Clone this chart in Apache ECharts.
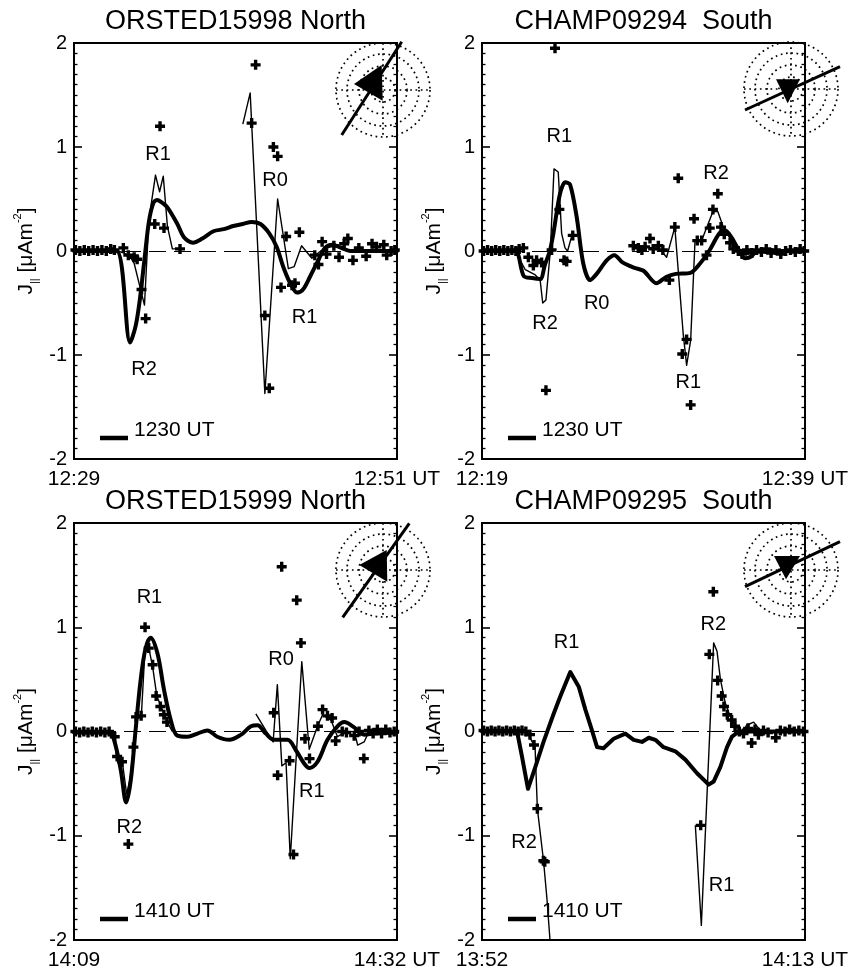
<!DOCTYPE html>
<html>
<head>
<meta charset="utf-8">
<script src="https://cdn.jsdelivr.net/npm/echarts/dist/echarts.min.js"></script>
<style>
html, body { margin: 0; padding: 0; background: #fff; }
#chart { width: 852px; height: 974px; }
</style>
</head>
<body>
<div id="chart"></div>
<script>
// Field-aligned current density J|| along four satellite passes,
// measured (crosses), along-track estimate (thin line) and model (thick line).

const panelTitles = ['ORSTED15998 North', 'CHAMP09294  South', 'ORSTED15999 North', 'CHAMP09295  South'];
const startTimes = ['12:29', '12:19', '14:09', '13:52'];
const endTimes = ['12:51 UT', '12:39 UT', '14:32 UT', '14:13 UT'];
const spanMinutes = [22, 20, 23, 21];          // minutes after the start time
const modelEpochs = ['1230 UT', '1230 UT', '1410 UT', '1410 UT'];
const yTickValues = [-2, -1, 0, 1, 2];

// ---- ORSTED 15998, North ([minutes, uA/m^2]) ----
const orsted15998Obs = [[0.1,0.01],[0.4,0.0],[0.7,0.01],[1.0,0.0],[1.3,0.01],[1.6,0.0],[1.9,0.01],[2.2,0.0],[2.5,0.02],[2.75,0.01],
  [3.36,0.03],[3.7,-0.04],[4.1,-0.06],[4.3,-0.08],[4.6,-0.37],[4.88,-0.65],[5.5,0.26],[5.86,1.2],[6.13,0.22],[7.22,0.02],
  [12.1,1.23],[12.37,1.79],[13.0,-0.62],[13.3,-1.32],[13.58,1.0],[13.87,0.91],[14.1,-0.35],[14.45,0.14],[14.85,-0.33],[15.05,-0.31],
  [15.35,0.18],[16.4,-0.04],[16.65,-0.13],[16.9,0.09],[17.2,-0.03],[17.7,0.05],[18.05,-0.06],[18.4,0.07],[18.65,0.12],[19.0,-0.09],
  [19.4,0.03],[19.9,-0.05],[20.3,0.07],[20.6,0.04],[21.1,0.06],[21.3,-0.04],[21.6,0.0],[21.85,0.01]];
const orsted15998Thin = [[0,0],[1.5,0],[3.0,0.0],[3.4,-0.02],[3.8,-0.05],[4.1,-0.12],[4.5,-0.35],[4.8,-0.52],[5.1,0.3],[5.55,0.73],
  [5.83,0.57],[6.08,0.72],[6.36,0.24],[6.7,0.02],[7.22,0.02],[9.5,'-'],[11.5,1.22],[12.0,1.52],[13.0,-1.37],[13.87,0.5],
  [14.6,-0.17],[15.0,-0.15],[15.5,0.05],[16.2,-0.07],[16.8,0.0],[17.3,0.03],[17.7,0.06],[18.3,0.04],[19.0,-0.01],[20,0],[22,0]];
const orsted15998Model = [[0,0],[1.5,0],[2.9,0],[3.82,-0.88],[4.2,-0.72],[4.5,-0.45],[4.8,-0.08],[5.1,0.28],[5.4,0.46],[5.65,0.49],
  [5.95,0.47],[6.36,0.42],[7.04,0.26],[7.5,0.13],[8.1,0.08],[8.74,0.12],[9.5,0.19],[10.2,0.21],[10.85,0.24],[11.5,0.26],
  [12.1,0.28],[12.7,0.26],[13.3,0.17],[13.8,0.04],[14.3,-0.17],[14.8,-0.33],[15.2,-0.4],[15.6,-0.37],[16.1,-0.24],[16.6,-0.1],
  [17.1,0.03],[17.6,0.06],[18.2,0.03],[18.8,0.0],[20,0],[22,0]];
const orsted15998Regions = [[5.72,0.93,'R1'],[13.7,0.68,'R0'],[15.7,-0.64,'R1'],[4.77,-1.14,'R2']];

// ---- CHAMP 09294, South ----
const champ09294Obs = [[0.1,0.0],[0.35,0.01],[0.6,0.0],[0.85,0.01],[1.1,0.0],[1.35,0.01],[1.6,0.0],[1.85,0.01],[2.1,0.0],[2.3,0.02],
  [2.56,0.03],[2.87,-0.06],[3.18,-0.14],[3.38,-0.09],[3.69,-0.11],[3.96,-1.34],[4.31,0.01],[4.52,1.95],[4.79,0.4],[5.08,-0.09],
  [5.24,-0.1],[5.62,0.15],[9.37,0.05],[9.68,0.03],[9.9,0.01],[10.1,0.04],[10.4,0.12],[10.6,0.02],[10.92,0.05],[11.2,0.01],
  [11.6,-0.28],[11.94,0.23],[12.15,0.7],[12.4,-0.99],[12.67,-0.85],[12.92,-1.48],[13.13,0.31],[13.33,0.1],[13.6,0.1],[13.9,-0.04],
  [14.1,0.22],[14.3,0.4],[14.6,0.55],[14.8,0.23],[15.0,0.16],[15.36,0.08],[15.56,0.02],[15.87,0.0],[16.1,-0.03],[16.4,0.01],
  [16.7,-0.02],[17.0,0.01],[17.3,-0.01],[17.6,0.02],[17.9,-0.02],[18.2,0.01],[18.5,-0.03],[18.8,0.0],[19.1,0.01],[19.4,-0.01],
  [19.7,0.02],[19.95,0.0]];
const champ09294Thin = [[0,0],[1.0,0],[2.06,0],[2.68,-0.18],[3.3,-0.23],[3.6,-0.28],[3.76,-0.5],[3.96,-0.47],[4.23,0.0],[4.46,0.79],
  [4.72,0.76],[4.93,0.17],[5.14,0.03],[5.3,0.0],[5.6,0.17],[7.5,'-'],[9.16,0.06],[10.0,0.04],[10.6,0.03],[11.0,0.02],
  [11.43,-0.06],[11.94,0.23],[12.46,-0.8],[12.67,-1.1],[12.92,-0.86],[13.19,0.1],[13.6,0.1],[14.3,0.38],[14.6,0.38],[14.94,0.23],
  [15.56,0.07],[15.97,-0.03],[16.5,0.0],[17,0],[20,0]];
const champ09294Model = [[0,0],[1.0,0],[2.06,0],[2.58,-0.24],[3.1,-0.26],[3.6,-0.27],[3.9,-0.13],[4.2,0.0],[4.42,0.17],[4.83,0.55],
  [5.15,0.66],[5.45,0.64],[5.86,0.33],[6.27,-0.12],[6.69,-0.28],[7.1,-0.22],[7.72,-0.09],[8.2,-0.04],[8.7,-0.11],[9.4,-0.16],
  [10.0,-0.19],[10.8,-0.31],[11.4,-0.25],[12.0,-0.22],[12.9,-0.21],[13.5,-0.12],[14.1,0.01],[14.7,0.17],[15.05,0.2],[15.45,0.13],
  [15.9,0.01],[16.3,-0.07],[16.7,-0.05],[17.0,0.0],[18,0],[20,0]];
const champ09294Regions = [[4.79,1.10,'R1'],[14.49,0.75,'R2'],[7.1,-0.50,'R0'],[3.9,-0.70,'R2'],[12.78,-1.26,'R1']];

// ---- ORSTED 15999, North ----
const orsted15999Obs = [[0.1,0.0],[0.4,-0.01],[0.7,0.0],[1.0,-0.01],[1.3,0.0],[1.6,-0.01],[1.9,0.0],[2.2,-0.01],[2.5,0.0],[2.9,-0.05],
  [3.07,-0.24],[3.42,-0.29],[3.87,-1.08],[4.23,-0.15],[4.42,0.14],[4.78,0.15],[5.06,1.0],[5.32,0.8],[5.6,0.64],[5.85,0.34],
  [6.15,0.24],[6.4,0.16],[6.62,0.09],[14.22,0.18],[14.5,-0.42],[14.79,1.58],[15.35,-0.28],[15.63,-1.18],[15.86,1.26],[16.16,0.85],
  [16.45,-0.07],[16.77,-0.26],[17.37,0.05],[17.7,0.21],[18.05,0.15],[18.38,0.13],[18.63,-0.09],[19.1,0.0],[19.4,-0.01],[19.95,-0.04],
  [20.3,0.0],[20.64,-0.26],[21.0,0.01],[21.3,-0.02],[21.6,0.02],[21.9,-0.02],[22.2,0.02],[22.5,-0.01],[22.8,0.0]];
const orsted15999Thin = [[0,0],[2.5,0],[2.88,-0.05],[3.1,-0.24],[3.44,-0.29],[3.75,-0.6],[4.0,-0.45],[4.23,-0.15],[4.5,0.12],[4.8,0.16],
  [5.06,0.8],[5.3,0.82],[5.6,0.62],[5.9,0.34],[6.2,0.24],[6.45,0.16],[6.65,0.09],[7.0,0.0],[9.0,'-'],[12.95,0.17],
  [13.66,0.01],[14.18,-0.1],[14.48,0.45],[14.8,-0.33],[15.1,-0.3],[15.4,-1.22],[16.22,0.67],[16.75,-0.17],[17.34,0.05],[17.7,0.16],
  [18.3,0.11],[18.76,-0.05],[19.4,0.0],[20.07,-0.06],[20.2,-0.13],[20.66,-0.1],[21.0,0.0],[23,0]];
const orsted15999Model = [[0,-0.01],[1.0,-0.01],[2.5,-0.01],[2.85,-0.08],[3.33,-0.37],[3.72,-0.68],[4.04,-0.47],[4.39,0.02],[4.75,0.5],[5.1,0.8],
  [5.46,0.9],[5.94,0.75],[6.41,0.4],[6.89,0.11],[7.36,-0.04],[8.08,-0.05],[8.79,-0.02],[9.5,0.01],[10.2,-0.05],[11.05,-0.08],
  [11.9,-0.03],[12.6,0.05],[13.06,0.06],[13.66,-0.02],[14.25,-0.08],[15.2,-0.08],[15.8,-0.18],[16.4,-0.31],[16.75,-0.35],[17.34,-0.29],
  [18.05,-0.08],[18.76,0.05],[19.24,0.09],[19.95,0.04],[20.66,-0.03],[21.4,-0.02],[23,-0.01]];
const orsted15999Regions = [[5.37,1.29,'R1'],[14.74,0.69,'R0'],[16.93,-0.58,'R1'],[3.94,-0.92,'R2']];

// ---- CHAMP 09295, South ----
const champ09295Obs = [[0.1,0.01],[0.35,0.0],[0.6,0.01],[0.85,0.0],[1.1,0.01],[1.35,0.0],[1.6,0.01],[1.85,0.0],[2.1,0.01],[2.35,0.0],
  [2.6,0.01],[2.85,0.0],[3.12,-0.03],[3.38,-0.13],[3.6,-0.74],[3.99,-1.24],[4.08,-1.25],[14.22,-0.9],[14.78,0.74],[15.04,1.34],
  [15.32,0.49],[15.58,0.34],[15.73,0.24],[15.95,0.16],[16.23,0.11],[16.45,0.05],[16.73,0.0],[17.0,-0.02],[17.3,0.03],[17.53,-0.11],
  [17.75,0.02],[17.97,-0.03],[18.3,0.01],[18.6,-0.01],[19.1,-0.06],[19.4,0.01],[19.7,0.0],[20.0,0.02],[20.3,0.0],[20.6,0.01],[20.9,0.0]];
const champ09295Thin = [[0,0],[1.0,0],[2.28,0],[2.9,0.0],[3.45,-0.15],[3.6,-0.74],[4.0,-1.24],[4.22,-1.6],[4.42,-2.0],[4.55,-2.4],
  [9.0,'-'],[13.87,-0.9],[14.26,-1.86],[15.06,0.85],[15.28,0.77],[15.5,0.5],[15.82,0.27],[16.15,0.14],[16.58,0.03],[16.9,-0.02],
  [17.2,0.06],[17.66,0.09],[18.1,0.01],[19,0],[21,0]];
const champ09295Model = [[0,0],[1.0,0],[2.28,0],[2.6,-0.24],[2.99,-0.55],[3.47,-0.34],[4.0,-0.1],[4.66,0.17],[5.1,0.34],[5.74,0.57],
  [6.29,0.43],[6.72,0.21],[7.15,0.01],[7.48,-0.15],[7.9,-0.16],[8.56,-0.07],[9.32,-0.02],[9.86,-0.08],[10.4,-0.1],[10.84,-0.06],
  [11.27,-0.08],[11.8,-0.15],[12.57,-0.19],[13.22,-0.27],[13.98,-0.4],[14.74,-0.51],[15.06,-0.48],[15.5,-0.34],[15.93,-0.15],[16.25,-0.05],
  [16.7,0.0],[18,0],[21,0]];
const champ09295Regions = [[5.5,0.85,'R1'],[15.04,1.03,'R2'],[2.73,-1.06,'R2'],[15.58,-1.48,'R1']];

// ---------------------------------------------------------------------------
const FONT = '"Liberation Sans", Arial, Helvetica, sans-serif';
const BLACK = '#000';
const CROSS = 'path://M3.3,0H6.7V3.3H10V6.7H6.7V10H3.3V6.7H0V3.3H3.3Z';

const panels = [
  { obs: orsted15998Obs, thin: orsted15998Thin, model: orsted15998Model, regions: orsted15998Regions, smooth: 0.3 },
  { obs: champ09294Obs,  thin: champ09294Thin,  model: champ09294Model,  regions: champ09294Regions,  smooth: 0.3 },
  { obs: orsted15999Obs, thin: orsted15999Thin, model: orsted15999Model, regions: orsted15999Regions, smooth: 0.35 },
  { obs: champ09295Obs,  thin: champ09295Thin,  model: champ09295Model,  regions: champ09295Regions,  smooth: 0 }
];

// plot rectangles (px)
const layout = [
  { left: 74,  top: 43,  width: 323, height: 416 },
  { left: 482, top: 43,  width: 323, height: 416 },
  { left: 74,  top: 523, width: 323, height: 417 },
  { left: 482, top: 523, width: 323, height: 417 }
];

// orbit dial in the upper right corner of each panel
const dials = [
  { cx: 383, cy: 90,  arrow: [341.7, 135, 401.7, 41.7],  head: [[354, 84], [381.7, 65], [382.7, 100.7]] },
  { cx: 791, cy: 89,  arrow: [745, 110, 840, 66.7],      head: [[776, 79.3], [800, 79.3], [787.7, 103.3]] },
  { cx: 383, cy: 570, arrow: [342.7, 617.3, 409.3, 523.3], head: [[359.3, 565], [386.7, 550], [387.3, 581.7]] },
  { cx: 791, cy: 570, arrow: [745, 586.7, 840, 541.7],   head: [[774, 556], [800, 556], [786, 579.3]] }
];
const dialRadii = [12, 24, 36, 47];

const chart = echarts.init(document.getElementById('chart'), null, { renderer: 'canvas' });

const grids = layout.map(g => ({
  left: g.left, top: g.top, width: g.width, height: g.height,
  show: true, borderColor: BLACK, borderWidth: 2, backgroundColor: 'transparent',
  containLabel: false, outerBoundsMode: 'none'
}));

const xAxes = layout.map((g, i) => ({
  gridIndex: i, type: 'value', min: 0, max: spanMinutes[i], interval: spanMinutes[i],
  axisLine: { show: false }, axisTick: { show: false }, splitLine: { show: false },
  axisLabel: {
    show: true, showMinLabel: true, showMaxLabel: true, hideOverlap: false,
    margin: 10, fontSize: 21, color: BLACK, fontFamily: FONT,
    formatter: v => (v === 0 ? startTimes[i] : endTimes[i])
  }
}));

const tickCommon = {
  axisLine: { show: false },
  axisTick: { show: true, inside: true, length: 8, lineStyle: { color: BLACK, width: 1.6 } },
  minorTick: { show: true, splitNumber: 10, length: 3.5, lineStyle: { color: BLACK, width: 1.3 } },
  splitLine: { show: false }, minorSplitLine: { show: false }
};

const leftAxes = layout.map((g, i) => Object.assign({
  gridIndex: i, type: 'value', position: 'left',
  min: yTickValues[0], max: yTickValues[yTickValues.length - 1], interval: 1,
  axisLabel: { show: true, margin: 7, fontSize: 20, color: BLACK, fontFamily: FONT,
    formatter: v => String(v) },
  name: '{n|J}{sub|||}{n| [\u03bcAm}{sup|-2}{n|]}',
  nameLocation: 'middle', nameRotate: 90, nameGap: 34,
  nameTextStyle: {
    color: BLACK, fontFamily: FONT, fontSize: 21,
    rich: {
      n: { fontSize: 21, lineHeight: 28, color: BLACK, fontFamily: FONT },
      sub: { fontSize: 11, lineHeight: 11, verticalAlign: 'bottom', color: BLACK, fontFamily: FONT },
      sup: { fontSize: 11, lineHeight: 11, verticalAlign: 'top', color: BLACK, fontFamily: FONT }
    }
  }
}, tickCommon));

const rightAxes = layout.map((g, i) => Object.assign({
  gridIndex: i, type: 'value', position: 'right',
  min: yTickValues[0], max: yTickValues[yTickValues.length - 1], interval: 1,
  axisLabel: { show: false }
}, tickCommon));

const series = [];
panels.forEach((p, i) => {
  series.push({
    type: 'line', xAxisIndex: i, yAxisIndex: i, data: p.model,
    showSymbol: false, symbol: 'none', smooth: p.smooth, clip: true, z: 4,
    lineStyle: { color: BLACK, width: 4, join: 'round', cap: 'round', opacity: 1 },
    itemStyle: { color: BLACK },
    markLine: {
      silent: true, symbol: ['none', 'none'], label: { show: false },
      lineStyle: { color: BLACK, width: 1, type: [17, 8], opacity: 1 },
      data: [{ yAxis: 0 }], z: 1, animation: false
    }
  });
  series.push({
    type: 'line', xAxisIndex: i, yAxisIndex: i, data: p.thin,
    showSymbol: false, symbol: 'none', connectNulls: false, clip: true, z: 3,
    lineStyle: { color: BLACK, width: 1.4, join: 'round', opacity: 1 },
    itemStyle: { color: BLACK }
  });
  series.push({
    type: 'scatter', xAxisIndex: i, yAxisIndex: i, data: p.obs,
    symbol: CROSS, symbolSize: 10, clip: true, z: 5,
    itemStyle: { color: BLACK, opacity: 1 }
  });
  series.push({
    type: 'scatter', xAxisIndex: i, yAxisIndex: i, data: p.regions,
    symbolSize: 1, silent: true, z: 6,
    itemStyle: { color: 'rgba(0,0,0,0)', opacity: 1 },
    label: {
      show: true, position: 'inside', formatter: q => q.data[2],
      fontSize: 20, color: BLACK, opacity: 1, fontFamily: FONT
    }
  });
});

const graphic = [];
layout.forEach((g, i) => {
  // panel title
  graphic.push({
    type: 'text', z: 50,
    style: { text: panelTitles[i], x: g.left + g.width / 2, y: g.top - 21,
      align: 'center', verticalAlign: 'middle', textAlign: 'center', textVerticalAlign: 'middle',
      font: '27px ' + FONT, fill: BLACK }
  });
  // model epoch key
  graphic.push({
    type: 'line', z: 50,
    shape: { x1: g.left + 26, y1: g.top + g.height - 21, x2: g.left + 54, y2: g.top + g.height - 21 },
    style: { stroke: BLACK, lineWidth: 4.5 }
  });
  graphic.push({
    type: 'text', z: 50,
    style: { text: modelEpochs[i], x: g.left + 60, y: g.top + g.height - 29,
      align: 'left', verticalAlign: 'middle', textAlign: 'left', textVerticalAlign: 'middle',
      font: '21px ' + FONT, fill: BLACK }
  });
  // orbit dial
  const d = dials[i];
  dialRadii.forEach(r => graphic.push({
    type: 'circle', z: 40, silent: true,
    shape: { cx: d.cx, cy: d.cy, r: r },
    style: { fill: 'none', stroke: BLACK, lineWidth: 1.7, lineDash: [1.7, 3.6] }
  }));
  const R = dialRadii[dialRadii.length - 1];
  graphic.push({
    type: 'line', z: 40, silent: true,
    shape: { x1: d.cx - R, y1: d.cy, x2: d.cx + R, y2: d.cy },
    style: { stroke: BLACK, lineWidth: 1.7, lineDash: [1.7, 3.6] }
  });
  graphic.push({
    type: 'line', z: 40, silent: true,
    shape: { x1: d.cx, y1: d.cy - R, x2: d.cx, y2: d.cy + R },
    style: { stroke: BLACK, lineWidth: 1.7, lineDash: [1.7, 3.6] }
  });
  graphic.push({
    type: 'line', z: 41, silent: true,
    shape: { x1: d.arrow[0], y1: d.arrow[1], x2: d.arrow[2], y2: d.arrow[3] },
    style: { stroke: BLACK, lineWidth: 3 }
  });
  graphic.push({
    type: 'polygon', z: 41, silent: true,
    shape: { points: d.head },
    style: { fill: BLACK }
  });
});

chart.setOption({
  animation: false,
  backgroundColor: '#fff',
  textStyle: { fontFamily: FONT },
  grid: grids,
  xAxis: xAxes,
  yAxis: leftAxes.concat(rightAxes),
  series: series,
  graphic: graphic
});
</script>
</body>
</html>
